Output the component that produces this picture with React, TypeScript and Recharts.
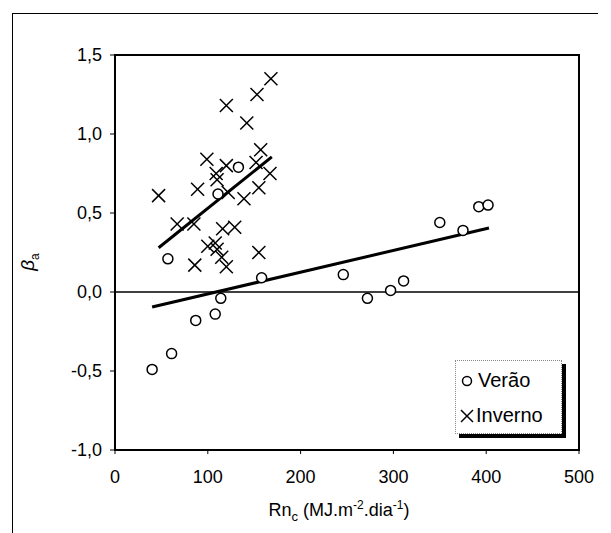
import {
  ScatterChart,
  Scatter,
  XAxis,
  YAxis,
  ReferenceLine,
  ReferenceArea,
} from "recharts";

// Verão (circles)
const veraoRn = [40, 61, 87, 108, 114, 57, 133, 111, 158, 246, 272, 297, 311, 350, 375, 392, 402];
const veraoBeta = [-0.49, -0.39, -0.18, -0.14, -0.04, 0.21, 0.79, 0.62, 0.09, 0.11, -0.04, 0.01, 0.07, 0.44, 0.39, 0.54, 0.55];

// Inverno (crosses)
const invernoRn = [168, 153, 120, 142, 157, 99, 152, 120, 109, 110, 167, 155, 47, 89, 122, 139, 67, 85, 116, 129, 100, 108, 110, 115, 86, 120, 155];
const invernoBeta = [1.35, 1.25, 1.18, 1.07, 0.9, 0.84, 0.82, 0.8, 0.75, 0.71, 0.75, 0.66, 0.61, 0.65, 0.63, 0.59, 0.43, 0.43, 0.4, 0.41, 0.29, 0.31, 0.27, 0.22, 0.17, 0.16, 0.25];

// fitted lines (end points)
const veraoFitRn = [40, 403];
const veraoFitBeta = [-0.095, 0.405];
const invernoFitRn = [47, 169];
const invernoFitBeta = [0.28, 0.855];

const xTicks = [0, 100, 200, 300, 400, 500];
const yTicks = [-1, -0.5, 0, 0.5, 1, 1.5];

const zip = (xs: number[], ys: number[]) => xs.map((x, i) => ({ x, y: ys[i] }));

const veraoData = zip(veraoRn, veraoBeta);
const invernoData = zip(invernoRn, invernoBeta);
const veraoFit = zip(veraoFitRn, veraoFitBeta);
const invernoFit = zip(invernoFitRn, invernoFitBeta);

const FONT = "'Liberation Sans', Arial, sans-serif";

const Circle = (props: any) => {
  const { cx, cy } = props;
  return <circle cx={cx} cy={cy} r={5} fill="#fff" stroke="#000" strokeWidth={1.5} />;
};

const Cross = (props: any) => {
  const { cx, cy } = props;
  const s = 6.5;
  return (
    <g stroke="#000" strokeWidth={1.5}>
      <line x1={cx - s} y1={cy - s} x2={cx + s} y2={cy + s} />
      <line x1={cx - s} y1={cy + s} x2={cx + s} y2={cy - s} />
    </g>
  );
};

const NoDot = () => <g />;

const fmt = (v: number) => v.toFixed(1).replace(".", ",");

export default function App() {
  return (
    <div style={{ position: "absolute", left: 0, top: 0, width: 611, height: 533, background: "#fff", fontFamily: FONT }}>
      <div
        style={{
          position: "absolute",
          left: 12,
          top: 13,
          width: 585,
          height: 530,
          borderLeft: "1.5px solid #000",
          borderTop: "1.5px solid #000",
        }}
      />
      <ScatterChart width={611} height={533} margin={{ top: 55, right: 32, bottom: 53, left: 55 }}>
        <ReferenceArea x1={0} x2={500} y1={-1} y2={1.5} fill="none" stroke="#000" strokeWidth={2} />
        <ReferenceLine y={0} stroke="#000" strokeWidth={1.5} />
        <XAxis
          type="number"
          dataKey="x"
          domain={[0, 500]}
          ticks={xTicks}
          height={30}
          tickSize={4}
          tickMargin={16}
          axisLine={{ stroke: "#000", strokeWidth: 2 }}
          tickLine={{ stroke: "#000" }}
          tick={{ fill: "#000", fontSize: 18, fontFamily: FONT }}
          allowDataOverflow
        />
        <YAxis
          type="number"
          dataKey="y"
          domain={[-1, 1.5]}
          ticks={yTicks}
          width={60}
          tickSize={5}
          tickMargin={8}
          tickFormatter={fmt}
          axisLine={{ stroke: "#000", strokeWidth: 2 }}
          tickLine={{ stroke: "#000" }}
          tick={{ fill: "#000", fontSize: 18, fontFamily: FONT }}
          allowDataOverflow
        />
        <Scatter
          data={veraoFit}
          line={{ stroke: "#000", strokeWidth: 3 }}
          shape={NoDot}
          isAnimationActive={false}
        />
        <Scatter
          data={invernoFit}
          line={{ stroke: "#000", strokeWidth: 3 }}
          shape={NoDot}
          isAnimationActive={false}
        />
        <Scatter name="Verão" data={veraoData} shape={Circle} isAnimationActive={false} />
        <Scatter name="Inverno" data={invernoData} shape={Cross} isAnimationActive={false} />
      </ScatterChart>

      {/* axis titles */}
      <svg style={{ position: "absolute", left: 0, top: 0, pointerEvents: "none" }} width={611} height={533}>
        <text
          transform="translate(34 262) rotate(-90)"
          textAnchor="middle"
          fontFamily={FONT}
          fontSize={19}
          fill="#000"
        >
          <tspan fontStyle="italic">β</tspan>
          <tspan fontSize={12} dy={5}>a</tspan>
        </text>
        <text x={339} y={516} textAnchor="middle" fontFamily={FONT} fontSize={18} fill="#000">
          Rn
          <tspan fontSize={13} dy={5}>c</tspan>
          <tspan dy={-5}> (MJ.m</tspan>
          <tspan fontSize={12} dy={-7}>-2</tspan>
          <tspan dy={7}>.dia</tspan>
          <tspan fontSize={12} dy={-7}>-1</tspan>
          <tspan dy={7}>)</tspan>
        </text>
      </svg>

      {/* legend */}
      <div
        style={{
          position: "absolute",
          left: 455,
          top: 360,
          width: 107,
          height: 74,
          border: "1px dotted #888",
          background: "#fff",
          boxShadow: "4px 4px 0 #000",
          fontSize: 20,
          color: "#000",
          boxSizing: "border-box",
        }}
      >
        <div style={{ position: "absolute", left: 5, top: 8, display: "flex", alignItems: "center" }}>
          <svg width={12} height={14} style={{ marginRight: 5 }}>
            <circle cx={6} cy={7} r={4.5} fill="none" stroke="#000" strokeWidth={1.5} />
          </svg>
          Verão
        </div>
        <div style={{ position: "absolute", left: 4, top: 43, display: "flex", alignItems: "center" }}>
          <svg width={14} height={14} style={{ marginRight: 2 }}>
            <line x1={1} y1={1} x2={13} y2={13} stroke="#000" strokeWidth={1.5} />
            <line x1={1} y1={13} x2={13} y2={1} stroke="#000" strokeWidth={1.5} />
          </svg>
          Inverno
        </div>
      </div>
    </div>
  );
}
